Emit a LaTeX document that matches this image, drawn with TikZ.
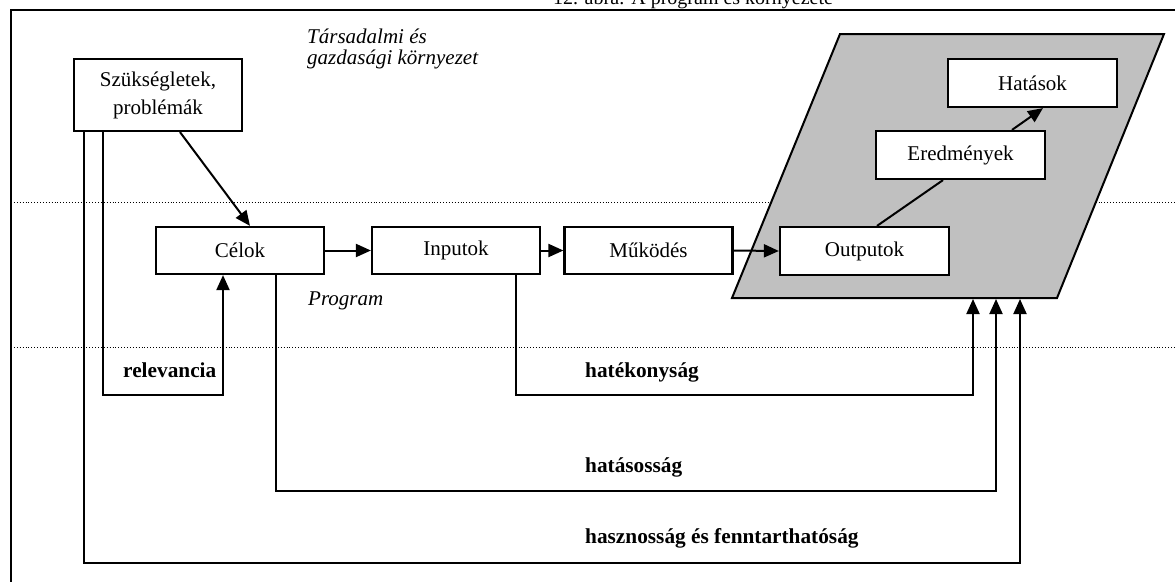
\documentclass[tikz,border=0pt]{standalone}
\usepackage{fontspec}
\setmainfont{Liberation Serif}
\usetikzlibrary{arrows.meta}
\definecolor{envgray}{RGB}{192,192,192}
\tikzset{
  box/.style={draw, line width=2.2pt, fill=white, minimum width=168pt, minimum height=47pt,
    inner sep=0pt, align=center, font=\fontsize{21}{28}\selectfont},
  conn/.style={line width=2pt},
  arr/.style={conn, -{Triangle[length=15pt,width=13pt]}},
  crit/.style={anchor=base west, inner sep=0pt, font=\fontsize{21.3}{24}\selectfont\bfseries},
  note/.style={anchor=base west, inner sep=0pt, align=left, font=\fontsize{21}{21}\selectfont\itshape},
  sep/.style={line width=0.9pt, dash pattern=on 0.9pt off 2pt}
}
\begin{document}
\begin{tikzpicture}[x=1pt, y=-1pt]
\useasboundingbox (0,0) rectangle (1175,581);
\clip (0,0) rectangle (1175,581);

% caption, cut by the page edge
\node[anchor=base, inner sep=0pt, font=\fontsize{20}{22}\selectfont] (caption) at (693,4) {12. ábra: A program és környezete};

% outer frame
\draw[line width=2pt] (11,10) rectangle (1200,610);

% separating dotted lines
\draw[sep] (11,202) -- (1175,202);
\draw[sep] (11,347) -- (1175,347);

% environment of results
\draw[line width=2pt, fill=envgray] (840,34) -- (1164,34) -- (1057,298) -- (732,298) -- cycle;

% boxes
\node[box, minimum height=72pt] (szuk) at (158,95) {Szükségletek,\\problémák};
\node[box] (celok) at (240,250.5) {Célok};
\node[box] (input) at (456,250.5) {Inputok};
\node[box] (mukod) at (648.5,250.5) {Működés};
\node[box, minimum width=169pt, minimum height=48pt] (output) at (864.5,251) {Outputok};
\node[box, minimum width=169pt, minimum height=48pt] (eredm) at (960.5,155) {Eredmények};
\node[box, minimum width=169pt, minimum height=48pt] (hatas) at (1032.5,83) {Hatások};

% texts
\node[note] (env) at (307,64) {Társadalmi és\\gazdasági környezet};
\node[note] (prog) at (308,305) {Program};
\node[crit] (lrel) at (123,377) {relevancia};
\node[crit] (lhatek) at (585,377) {hatékonyság};
\node[crit] (lhatas) at (585,472) {hatásosság};
\node[crit] (lhaszn) at (585,543) {hasznosság és fenntarthatóság};

% corner and end points of the evaluation loops
\coordinate (relC) at (223,395);
\coordinate (hatekC) at (973,395);
\coordinate (hatasC) at (996,491);
\coordinate (hasznC) at (1020,563);
\coordinate (hatekE) at (973,299);
\coordinate (hatasE) at (996,299);
\coordinate (hasznE) at (1020,299);

% main chain
\draw[arr] ([xshift=22pt]szuk.south) -- ([xshift=10pt]celok.north);
\draw[arr] (celok.east) -- (input.west);
\draw[arr] (input.east) -- (mukod.west);
\draw[arr] (mukod.east) -- (output.west);
\draw[conn] ([xshift=12.5pt]output.north) -- ([xshift=-17.5pt]eredm.south);
\draw[arr] ([xshift=51.5pt]eredm.north) -- ([xshift=10.5pt]hatas.south);

% evaluation loops
\draw[arr] ([xshift=-55pt]szuk.south) |- (relC) -- ([xshift=-17pt]celok.south);
\draw[arr] ([xshift=60pt]input.south) |- (hatekC) -- (hatekE);
\draw[arr] ([xshift=36pt]celok.south) |- (hatasC) -- (hatasE);
\draw[arr] ([xshift=-74pt]szuk.south) |- (hasznC) -- (hasznE);
\end{tikzpicture}
\end{document}
